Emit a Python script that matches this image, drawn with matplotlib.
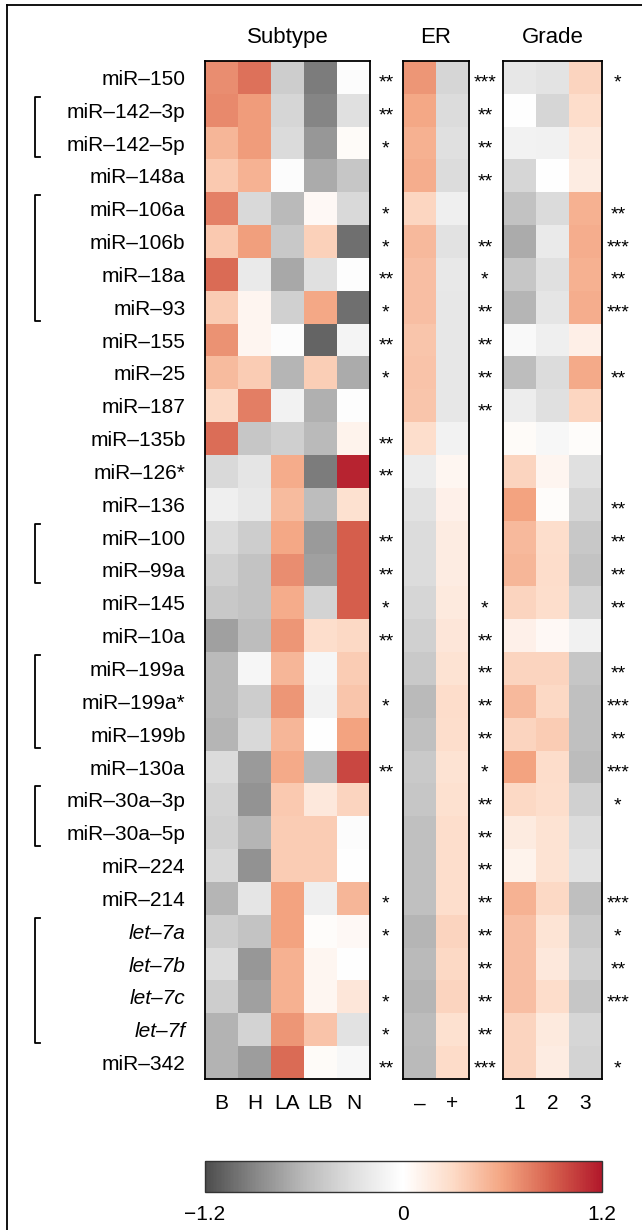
import numpy as np
import matplotlib
matplotlib.use('Agg')
import matplotlib.pyplot as plt
from matplotlib.colors import LinearSegmentedColormap

plt.rcParams['font.family'] = ['Liberation Sans', 'DejaVu Sans']

## row labels (top to bottom)
mirnas = ['miR–150', 'miR–142–3p', 'miR–142–5p', 'miR–148a', 'miR–106a', 'miR–106b',
          'miR–18a', 'miR–93', 'miR–155', 'miR–25', 'miR–187', 'miR–135b', 'miR–126*',
          'miR–136', 'miR–100', 'miR–99a', 'miR–145', 'miR–10a', 'miR–199a', 'miR–199a*',
          'miR–199b', 'miR–130a', 'miR–30a–3p', 'miR–30a–5p', 'miR–224', 'miR–214',
          'let–7a', 'let–7b', 'let–7c', 'let–7f', 'miR–342']
italic_rows = ['let–7a', 'let–7b', 'let–7c', 'let–7f']

subtype_cols = ['B', 'H', 'LA', 'LB', 'N']
er_cols = ['–', '+']
grade_cols = ['1', '2', '3']

subtype_vals = np.array([
    [0.70, 0.82, -0.45, -0.95, -0.02],
    [0.72, 0.63, -0.37, -0.90, -0.30],
    [0.50, 0.63, -0.33, -0.80, 0.03],
    [0.40, 0.52, -0.02, -0.68, -0.50],
    [0.75, -0.35, -0.60, 0.05, -0.35],
    [0.40, 0.62, -0.48, 0.35, -1.02],
    [0.85, -0.20, -0.70, -0.30, -0.01],
    [0.38, 0.08, -0.42, 0.58, -1.02],
    [0.68, 0.08, -0.02, -1.07, -0.10],
    [0.47, 0.38, -0.62, 0.37, -0.68],
    [0.30, 0.76, -0.12, -0.65, -0.01],
    [0.84, -0.50, -0.43, -0.60, 0.10],
    [-0.35, -0.25, 0.56, -0.95, 1.15],
    [-0.15, -0.22, 0.47, -0.57, 0.25],
    [-0.33, -0.45, 0.58, -0.78, 0.90],
    [-0.42, -0.52, 0.70, -0.75, 0.90],
    [-0.48, -0.52, 0.56, -0.40, 0.90],
    [-0.75, -0.57, 0.66, 0.27, 0.30],
    [-0.60, -0.08, 0.50, -0.08, 0.38],
    [-0.60, -0.45, 0.66, -0.12, 0.42],
    [-0.62, -0.35, 0.50, 0.00, 0.60],
    [-0.33, -0.78, 0.57, -0.60, 1.00],
    [-0.40, -0.82, 0.40, 0.18, 0.33],
    [-0.42, -0.62, 0.38, 0.38, -0.02],
    [-0.36, -0.83, 0.38, 0.38, 0.00],
    [-0.62, -0.25, 0.60, -0.15, 0.50],
    [-0.45, -0.52, 0.60, 0.02, 0.05],
    [-0.32, -0.80, 0.53, 0.07, 0.00],
    [-0.45, -0.75, 0.53, 0.07, 0.20],
    [-0.63, -0.40, 0.66, 0.43, -0.28],
    [-0.63, -0.76, 0.85, 0.03, -0.07],
])

er_vals = np.array([
    [0.66, -0.37], [0.58, -0.32], [0.53, -0.30], [0.55, -0.32], [0.32, -0.15],
    [0.48, -0.28], [0.45, -0.22], [0.45, -0.23], [0.42, -0.23], [0.43, -0.23],
    [0.42, -0.23], [0.27, -0.12], [-0.18, 0.07], [-0.28, 0.12], [-0.32, 0.15],
    [-0.32, 0.15], [-0.37, 0.17], [-0.42, 0.20], [-0.47, 0.23], [-0.60, 0.28],
    [-0.55, 0.27], [-0.47, 0.23], [-0.50, 0.25], [-0.55, 0.27], [-0.55, 0.27],
    [-0.55, 0.27], [-0.62, 0.33], [-0.60, 0.30], [-0.62, 0.33], [-0.58, 0.25],
    [-0.60, 0.29],
])

grade_vals = np.array([
    [-0.23, -0.27, 0.33], [0.00, -0.37, 0.28], [-0.12, -0.13, 0.18], [-0.37, 0.00, 0.15],
    [-0.53, -0.33, 0.53], [-0.68, -0.20, 0.55], [-0.50, -0.30, 0.53], [-0.62, -0.25, 0.55],
    [-0.05, -0.15, 0.13], [-0.57, -0.32, 0.57], [-0.17, -0.30, 0.32], [0.03, -0.07, 0.02],
    [0.33, 0.08, -0.30], [0.60, 0.02, -0.37], [0.48, 0.27, -0.48], [0.50, 0.28, -0.52],
    [0.33, 0.27, -0.40], [0.12, 0.05, -0.13], [0.33, 0.33, -0.50], [0.48, 0.30, -0.55],
    [0.33, 0.38, -0.55], [0.60, 0.28, -0.58], [0.30, 0.27, -0.42], [0.16, 0.23, -0.32],
    [0.10, 0.23, -0.28], [0.52, 0.30, -0.56], [0.45, 0.22, -0.47], [0.45, 0.18, -0.42],
    [0.45, 0.28, -0.50], [0.33, 0.17, -0.37], [0.33, 0.15, -0.40],
])

subtype_stars = ['**', '**', '*', '', '*', '*', '**', '*', '**', '*', '', '**', '**', '',
                 '**', '**', '*', '**', '', '*', '', '**', '', '', '', '*', '*', '', '*', '*', '**']
er_stars = ['***', '**', '**', '**', '', '**', '*', '**', '**', '**', '**', '', '', '', '',
            '', '*', '**', '**', '**', '**', '*', '**', '**', '**', '**', '**', '**', '**', '**', '***']
grade_stars = ['*', '', '', '', '**', '***', '**', '***', '', '**', '', '', '', '**', '**',
               '**', '**', '', '**', '***', '**', '***', '*', '', '', '***', '*', '**', '***', '', '*']

## miRNA clusters marked with brackets (first row, last row)
groups = [(1, 2), (4, 7), (14, 15), (18, 20), (22, 23), (26, 29)]

W, H = 642, 1230
fig = plt.figure(figsize=(W / 100, H / 100), dpi=100)

def px_axes(x0, y0, x1, y1):
    return fig.add_axes([x0 / W, 1 - y1 / H, (x1 - x0) / W, (y1 - y0) / H])

cmap = LinearSegmentedColormap.from_list('gyrd', ['#4d4d4d', '#878787', '#bababa', '#e0e0e0', '#ffffff',
                                                  '#fddbc7', '#f4a582', '#d6604d', '#b2182b'])

## overlay for frame and brackets
ov = fig.add_axes([0, 0, 1, 1])
ov.set_xlim(0, W)
ov.set_ylim(H, 0)
ov.axis('off')
ov.plot([7, 7], [5, H], color='black', lw=1.3)
ov.plot([7, W], [5, 5], color='black', lw=1.3)

top, bottom = 61, 1079
row_h = (bottom - top) / len(mirnas)
for a, b in groups:
    y0 = top + a * row_h + 3
    y1 = top + (b + 1) * row_h - 3
    ov.plot([40, 35, 35, 40], [y0, y0, y1, y1], color='black', lw=1.3)

panels = [(subtype_vals, subtype_cols, subtype_stars, 'Subtype', 205, 370),
          (er_vals, er_cols, er_stars, 'ER', 403, 469),
          (grade_vals, grade_cols, grade_stars, 'Grade', 503, 602)]
for k, (vals, cols, stars, title, x0, x1) in enumerate(panels):
    ax = px_axes(x0, top, x1, bottom)
    im = ax.imshow(vals, cmap=cmap, vmin=-1.2, vmax=1.2, aspect='auto', interpolation='nearest')
    ax.set_xticks(range(len(cols)))
    ax.set_xticklabels(cols, fontsize=15)
    ax.tick_params(axis='x', length=0, pad=11)
    ax.set_title(title, fontsize=16, pad=13)
    if k == 0:
        ax.set_yticks(range(len(mirnas)))
        ax.set_yticklabels(mirnas, fontsize=15)
        for lab in ax.get_yticklabels():
            if lab.get_text() in italic_rows:
                lab.set_style('italic')
        ax.tick_params(axis='y', length=0, pad=14)
    else:
        ax.set_yticks([])
    for sp in ax.spines.values():
        sp.set_linewidth(1.3)
    for i, s in enumerate(stars):
        if s:
            ax.text(len(cols) - 0.02, i + 0.18, s, ha='center', va='center', fontsize=14, clip_on=False)

## colour key
cax = px_axes(205, 1161, 602, 1192)
cb = fig.colorbar(im, cax=cax, orientation='horizontal', ticks=[-1.2, 0, 1.2])
cb.ax.set_xticklabels(['−1.2', '0', '1.2'], fontsize=15)
cb.ax.tick_params(length=0, pad=9)
cb.outline.set_linewidth(1.0)
cb.outline.set_edgecolor('#333333')

fig.savefig('out.png', dpi=100)
